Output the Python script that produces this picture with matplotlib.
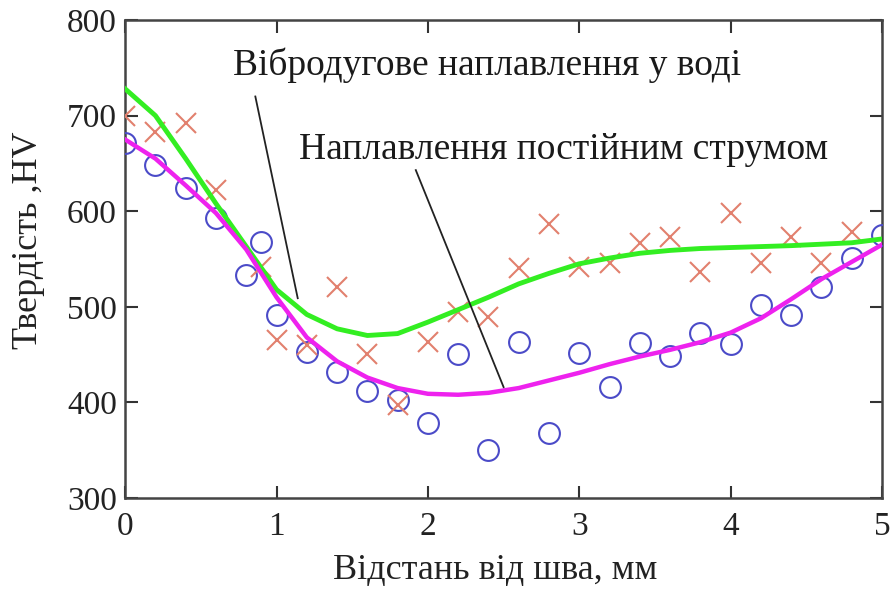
import numpy as np
import matplotlib
matplotlib.use("Agg")
import matplotlib.pyplot as plt

circ_x = [0.0, 0.2, 0.4, 0.6, 0.8, 0.9, 1.0, 1.2, 1.4, 1.6, 1.8, 2.0, 2.2, 2.4,
          2.6, 2.8, 3.0, 3.2, 3.4, 3.6, 3.8, 4.0, 4.2, 4.4, 4.6, 4.8, 5.0]
circ_y = [671, 648, 624, 593, 533, 568, 491, 453, 432, 412, 402, 378, 451, 350,
          463, 368, 452, 416, 462, 449, 473, 461, 502, 491, 521, 551, 575]

cross_x = [0.0, 0.2, 0.4, 0.6, 0.9, 1.0, 1.2, 1.4, 1.6, 1.8, 2.0, 2.2, 2.4,
           2.6, 2.8, 3.0, 3.2, 3.4, 3.6, 3.8, 4.0, 4.2, 4.4, 4.6, 4.8]
cross_y = [700, 683, 692, 622, 542, 465, 460, 521, 451, 397, 463, 495, 489,
           541, 587, 542, 546, 567, 573, 536, 598, 546, 573, 546, 578]

# fitted curves
vibro_x = [0.0, 0.2, 0.4, 0.6, 0.8, 1.0, 1.2, 1.4, 1.6, 1.8, 2.0, 2.2, 2.4,
           2.6, 2.8, 3.0, 3.2, 3.4, 3.6, 3.8, 4.0, 4.4, 4.8, 5.0]
vibro_y = [728, 700, 655, 608, 563, 518, 492, 477, 470, 472, 484, 497, 510,
           524, 535, 545, 551, 556, 559, 561, 562, 564, 567, 571]

dc_x = [0.0, 0.2, 0.4, 0.6, 0.8, 1.0, 1.2, 1.4, 1.6, 1.8, 2.0, 2.2, 2.4, 2.6,
        2.8, 3.0, 3.2, 3.4, 3.6, 3.8, 4.0, 4.2, 4.4, 4.6, 4.8, 5.0]
dc_y = [675, 655, 627, 598, 560, 510, 468, 443, 426, 415, 409, 408, 410, 415,
        423, 431, 440, 448, 455, 463, 473, 488, 508, 529, 547, 565]

x_ticks = [0, 1, 2, 3, 4, 5]
y_ticks = [300, 400, 500, 600, 700, 800]

label_vibro = "Вібродугове наплавлення у воді"
label_dc = "Наплавлення постійним струмом"

plt.rcParams['font.family'] = ['Liberation Serif', 'DejaVu Serif']

fig = plt.figure(figsize=(8.94, 5.89), dpi=100)
ax = fig.add_axes([0.14, 0.1545, 0.8466, 0.8115])

ax.plot(circ_x, circ_y, 'o', mfc='none', mec='#4b4bc8', mew=1.5, ms=15, zorder=3)
ax.plot(cross_x, cross_y, 'x', color='#e2806e', mew=1.5, ms=15, zorder=3)
ax.plot(vibro_x, vibro_y, color='#33ee22', lw=3.5, zorder=4)
ax.plot(dc_x, dc_y, color='#ee22ee', lw=3.2, zorder=4)

# leader lines for the curve labels
ax.plot([0.86, 1.14], [720, 509], color='#222222', lw=1.3, zorder=5)
ax.plot([1.92, 2.5], [643, 416], color='#222222', lw=1.3, zorder=5)
ax.text(0.715, 753, label_vibro, fontsize=27, va='center', ha='left', color='#1a1a1a')
ax.text(1.146, 664, label_dc, fontsize=27, va='center', ha='left', color='#1a1a1a')

ax.set_xlim(0, 5)
ax.set_ylim(300, 800)
ax.set_xticks(x_ticks)
ax.set_yticks(y_ticks)
ax.tick_params(direction='in', length=9, width=1.5, labelsize=24,
               top=True, right=True, colors='#333333', labelcolor='#222222')
ax.tick_params(axis='x', pad=10)
ax.tick_params(axis='y', pad=6)
for s in ax.spines.values():
    s.set_linewidth(1.8)
    s.set_color('#444444')

ax.set_xlabel("Відстань від шва, мм", fontsize=26, color='#222222', va='center')
ax.set_ylabel("Твердість ,HV", fontsize=26, color='#222222', va='center')
ax.xaxis.set_label_coords(0.489, -0.151)
ax.yaxis.set_label_coords(-0.128, 0.54)

fig.savefig("out.png", dpi=100)
